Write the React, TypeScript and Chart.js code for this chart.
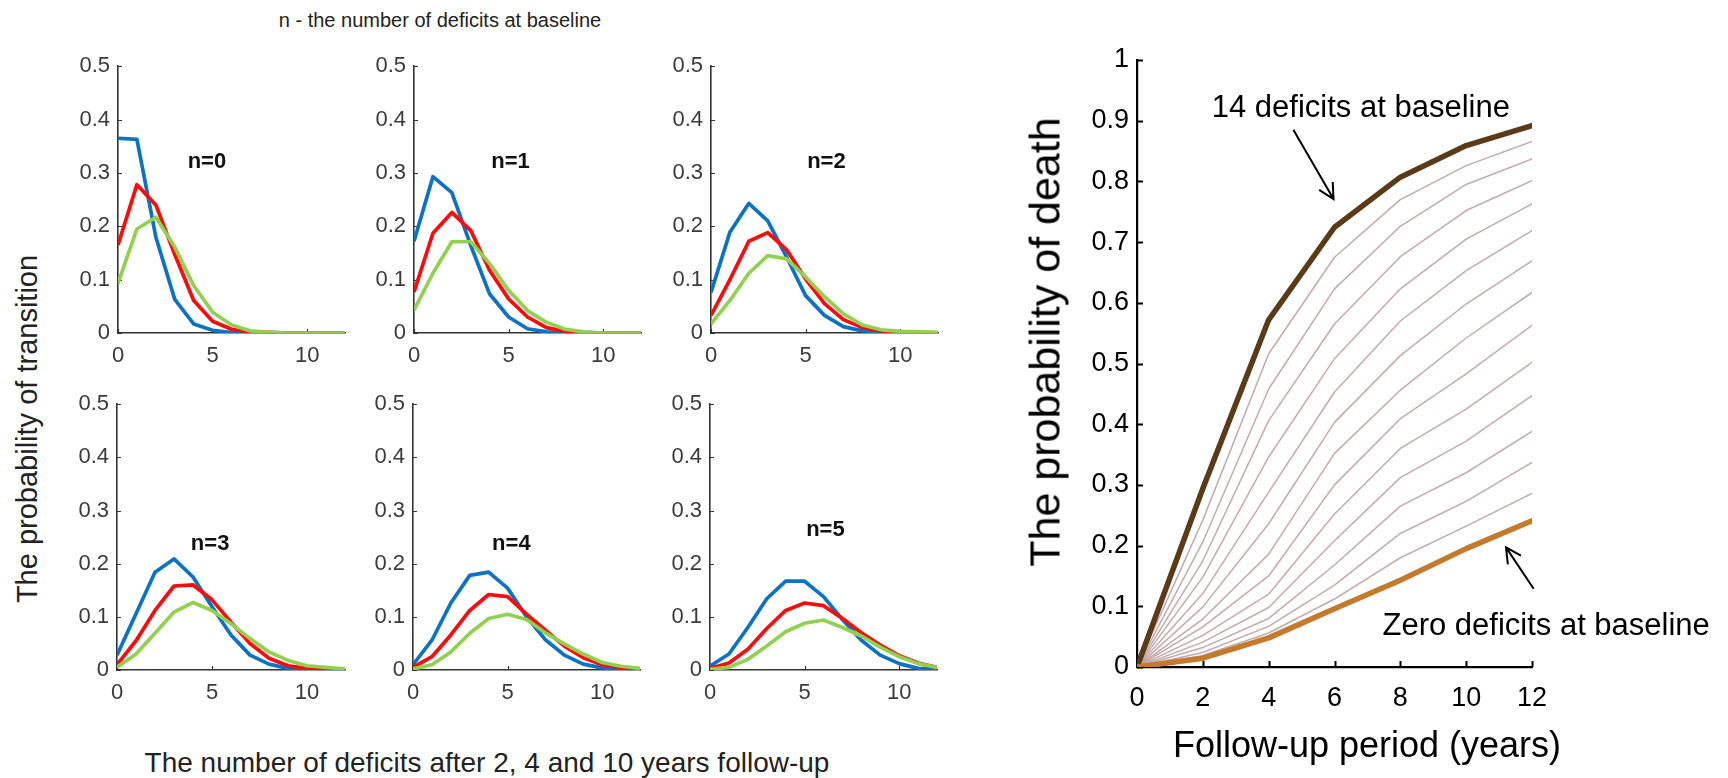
import React, { useEffect, useRef } from "react";
import { Chart, registerables } from "chart.js";

Chart.register(...registerables);

const FONT = '"Liberation Sans", Arial, Helvetica, sans-serif';

// ---------- Left: transition probabilities ----------
const DEFICIT_COUNTS = [0, 1, 2, 3, 4, 5, 6, 7, 8, 9, 10, 11, 12];
const BASELINE_N = [0, 1, 2, 3, 4, 5];
const TRANS_X_TICKS = [0, 5, 10];
const TRANS_Y_TICKS = [0, 0.1, 0.2, 0.3, 0.4, 0.5];

// blue = 2 years, red = 4 years, green = 10 years
const N0_2Y = [0.365, 0.363, 0.18, 0.063, 0.017, 0.005, 0.001, 0, 0, 0, 0, 0, 0];
const N0_4Y = [0.165, 0.278, 0.24, 0.147, 0.061, 0.022, 0.007, 0.002, 0.001, 0, 0, 0, 0];
const N0_10Y = [0.093, 0.195, 0.217, 0.161, 0.089, 0.039, 0.015, 0.004, 0.001, 0, 0, 0, 0];

const N1_2Y = [0.172, 0.293, 0.263, 0.164, 0.073, 0.03, 0.008, 0.002, 0, 0, 0, 0, 0];
const N1_4Y = [0.077, 0.187, 0.226, 0.192, 0.117, 0.064, 0.03, 0.01, 0.003, 0.001, 0, 0, 0];
const N1_10Y = [0.043, 0.112, 0.171, 0.171, 0.13, 0.08, 0.042, 0.02, 0.007, 0.002, 0, 0, 0];

const N2_2Y = [0.076, 0.189, 0.243, 0.21, 0.142, 0.07, 0.033, 0.012, 0.004, 0.001, 0, 0, 0];
const N2_4Y = [0.033, 0.1, 0.172, 0.188, 0.156, 0.101, 0.055, 0.025, 0.01, 0.004, 0.002, 0.001, 0];
const N2_10Y = [0.017, 0.061, 0.112, 0.145, 0.139, 0.105, 0.068, 0.036, 0.015, 0.006, 0.003, 0.002, 0.001];

const N3_2Y = [0.028, 0.106, 0.184, 0.209, 0.175, 0.119, 0.066, 0.028, 0.011, 0.003, 0.001, 0, 0];
const N3_4Y = [0.01, 0.055, 0.112, 0.158, 0.16, 0.132, 0.09, 0.05, 0.022, 0.008, 0.003, 0.001, 0];
const N3_10Y = [0.005, 0.03, 0.069, 0.109, 0.127, 0.112, 0.087, 0.059, 0.034, 0.018, 0.008, 0.005, 0.002];

const N4_2Y = [0.01, 0.056, 0.126, 0.178, 0.184, 0.154, 0.1, 0.057, 0.028, 0.011, 0.004, 0.001, 0];
const N4_4Y = [0.005, 0.025, 0.066, 0.112, 0.142, 0.138, 0.105, 0.075, 0.045, 0.023, 0.01, 0.005, 0.002];
const N4_10Y = [0.002, 0.01, 0.034, 0.069, 0.097, 0.105, 0.095, 0.07, 0.049, 0.03, 0.014, 0.007, 0.003];

const N5_2Y = [0.007, 0.03, 0.08, 0.134, 0.167, 0.167, 0.138, 0.095, 0.056, 0.028, 0.012, 0.003, 0.001];
const N5_4Y = [0.003, 0.013, 0.039, 0.078, 0.112, 0.126, 0.121, 0.097, 0.07, 0.047, 0.027, 0.013, 0.005];
const N5_10Y = [0.001, 0.005, 0.02, 0.045, 0.072, 0.088, 0.094, 0.08, 0.064, 0.043, 0.025, 0.012, 0.005];

const PANEL_SERIES = [
  [N0_2Y, N0_4Y, N0_10Y],
  [N1_2Y, N1_4Y, N1_10Y],
  [N2_2Y, N2_4Y, N2_10Y],
  [N3_2Y, N3_4Y, N3_10Y],
  [N4_2Y, N4_4Y, N4_10Y],
  [N5_2Y, N5_4Y, N5_10Y],
];

// ---------- Right: probability of death ----------
const FOLLOW_UP_YEARS = [0, 2, 4, 6, 8, 10, 12];
const DEATH_Y_TICKS = [0, 0.1, 0.2, 0.3, 0.4, 0.5, 0.6, 0.7, 0.8, 0.9, 1];
const DEATH_BASE_0 = [0, 0.0145, 0.048, 0.096, 0.143, 0.195, 0.241];
const DEATH_BASE_1 = [0, 0.019, 0.056, 0.112, 0.18, 0.232, 0.286];
const DEATH_BASE_2 = [0, 0.024, 0.067, 0.135, 0.22, 0.273, 0.337];
const DEATH_BASE_3 = [0, 0.032, 0.08, 0.168, 0.265, 0.32, 0.388];
const DEATH_BASE_4 = [0, 0.041, 0.098, 0.208, 0.312, 0.372, 0.447];
const DEATH_BASE_5 = [0, 0.052, 0.12, 0.252, 0.36, 0.425, 0.502];
const DEATH_BASE_6 = [0, 0.066, 0.15, 0.3, 0.409, 0.483, 0.563];
const DEATH_BASE_7 = [0, 0.079, 0.186, 0.352, 0.456, 0.542, 0.617];
const DEATH_BASE_8 = [0, 0.099, 0.236, 0.403, 0.513, 0.598, 0.669];
const DEATH_BASE_9 = [0, 0.121, 0.288, 0.453, 0.57, 0.653, 0.719];
const DEATH_BASE_10 = [0, 0.148, 0.346, 0.508, 0.623, 0.705, 0.763];
const DEATH_BASE_11 = [0, 0.175, 0.406, 0.565, 0.676, 0.752, 0.801];
const DEATH_BASE_12 = [0, 0.206, 0.458, 0.623, 0.726, 0.795, 0.837];
const DEATH_BASE_13 = [0, 0.242, 0.516, 0.675, 0.77, 0.826, 0.866];
const DEATH_BASE_14 = [0, 0.294, 0.572, 0.7245, 0.807, 0.859, 0.892];

const DEATH_SERIES = [
  DEATH_BASE_0, DEATH_BASE_1, DEATH_BASE_2, DEATH_BASE_3, DEATH_BASE_4,
  DEATH_BASE_5, DEATH_BASE_6, DEATH_BASE_7, DEATH_BASE_8, DEATH_BASE_9,
  DEATH_BASE_10, DEATH_BASE_11, DEATH_BASE_12, DEATH_BASE_13, DEATH_BASE_14,
];

// ---------- layout / style (kept out of data) ----------
const PANEL_AREAS = [
  { left: 118, top: 65, right: 345, bottom: 333 },
  { left: 414, top: 65, right: 641, bottom: 333 },
  { left: 711, top: 65, right: 938, bottom: 333 },
  { left: 117, top: 403, right: 345, bottom: 670 },
  { left: 413, top: 403, right: 640, bottom: 670 },
  { left: 710, top: 403, right: 937, bottom: 670 },
];
const PANEL_LABEL_AT = [
  [4.7, 0.32], [5.1, 0.32], [6.1, 0.32],
  [4.9, 0.238], [5.2, 0.238], [6.1, 0.263],
];
const SERIES_COLORS = ["#0B72C4", "#FF0A0A", "#92D050"];

const DEATH_AREA = { left: 1137, top: 60, right: 1532, bottom: 667 };
const DEATH_NOTES = [
  { text: "14 deficits at baseline", x: 6.8, y: 0.906, from: [4.75, 0.885], to: [5.97, 0.771] },
  { text: "Zero deficits at baseline", x: 12.43, y: 0.052, from: [12.05, 0.129], to: [11.21, 0.197] },
];

const fmt = (v: any) => String(Math.round(Number(v) * 10) / 10);

const inwardTicks = {
  id: "inwardTicks",
  beforeDatasetsDraw(chart: any, _a: any, opts: any) {
    const { ctx, chartArea, scales } = chart;
    ctx.save();
    ctx.strokeStyle = opts.color;
    ctx.lineWidth = opts.width;
    ctx.beginPath();
    scales.y.ticks.forEach((t: any) => {
      const y = Math.round(scales.y.getPixelForValue(t.value)) + 0.5;
      ctx.moveTo(chartArea.left, y);
      ctx.lineTo(chartArea.left + opts.len, y);
    });
    scales.x.ticks.forEach((t: any) => {
      const x = Math.round(scales.x.getPixelForValue(t.value)) + 0.5;
      ctx.moveTo(x, chartArea.bottom);
      ctx.lineTo(x, chartArea.bottom - opts.len);
    });
    ctx.stroke();
    ctx.restore();
  },
};

const panelLabel = {
  id: "panelLabel",
  afterDatasetsDraw(chart: any, _a: any, opts: any) {
    const { ctx, scales } = chart;
    ctx.save();
    ctx.font = `bold 22px ${FONT}`;
    ctx.fillStyle = "#111";
    ctx.textAlign = "center";
    ctx.textBaseline = "middle";
    ctx.fillText(opts.text, scales.x.getPixelForValue(opts.x), scales.y.getPixelForValue(opts.y));
    ctx.restore();
  },
};

function drawArrow(ctx: CanvasRenderingContext2D, x1: number, y1: number, x2: number, y2: number) {
  const head = 17;
  const spread = 0.48;
  const a = Math.atan2(y2 - y1, x2 - x1);
  ctx.beginPath();
  ctx.moveTo(x1, y1);
  ctx.lineTo(x2, y2);
  ctx.moveTo(x2 - head * Math.cos(a - spread), y2 - head * Math.sin(a - spread));
  ctx.lineTo(x2, y2);
  ctx.lineTo(x2 - head * Math.cos(a + spread), y2 - head * Math.sin(a + spread));
  ctx.stroke();
}

const deathNotes = {
  id: "deathNotes",
  afterDraw(chart: any) {
    const { ctx, scales } = chart;
    const X = (v: number) => scales.x.getPixelForValue(v);
    const Y = (v: number) => scales.y.getPixelForValue(v);
    ctx.save();
    ctx.fillStyle = "#000";
    ctx.strokeStyle = "#000";
    ctx.lineWidth = 2;
    ctx.font = `31px ${FONT}`;
    ctx.textAlign = "center";
    ctx.textBaseline = "alphabetic";
    DEATH_NOTES.forEach((n) => {
      ctx.fillText(n.text, X(n.x), Y(n.y));
      drawArrow(ctx, X(n.from[0]), Y(n.from[1]), X(n.to[0]), Y(n.to[1]));
    });
    ctx.restore();
  },
};

function SmallPanel({ idx }: { idx: number }) {
  const ref = useRef<HTMLCanvasElement>(null);
  const area = PANEL_AREAS[idx];
  const padL = 10, yW = 60, padT = 20, padR = 20, xH = 50;
  const W = area.right - area.left + padL + yW + padR;
  const H = area.bottom - area.top + padT + xH;
  useEffect(() => {
    const series = PANEL_SERIES[idx];
    const chart = new Chart(ref.current!, {
      type: "line",
      data: {
        datasets: series.map((arr, k) => ({
          data: DEFICIT_COUNTS.map((x, i) => ({ x, y: arr[i] })),
          borderColor: SERIES_COLORS[k],
          borderWidth: 3.7,
          pointRadius: 0,
          tension: 0,
          fill: false,
          order: 2 - k,
          borderJoinStyle: "round" as const,
        })),
      },
      options: {
        responsive: false,
        animation: false,
        events: [],
        layout: { padding: { left: padL, top: padT, right: padR, bottom: 0 }, autoPadding: false } as any,
        plugins: {
          legend: { display: false },
          tooltip: { enabled: false },
          inwardTicks: { len: 4, color: "#333", width: 1.2 },
          panelLabel: { text: `n=${BASELINE_N[idx]}`, x: PANEL_LABEL_AT[idx][0], y: PANEL_LABEL_AT[idx][1] },
        } as any,
        scales: {
          x: {
            type: "linear",
            min: 0,
            max: 12,
            afterBuildTicks: (s: any) => { s.ticks = TRANS_X_TICKS.map((v) => ({ value: v })); },
            afterFit: (s: any) => { s.height = xH; },
            grid: { display: false, drawTicks: false },
            border: { display: true, color: "#333", width: 1.6 },
            ticks: { padding: 10, color: "#3a3a3a", font: { family: FONT, size: 22 }, maxRotation: 0 },
          },
          y: {
            type: "linear",
            min: 0,
            max: 0.5,
            afterBuildTicks: (s: any) => { s.ticks = TRANS_Y_TICKS.map((v) => ({ value: v })); },
            afterFit: (s: any) => { s.width = yW; },
            grid: { display: false, drawTicks: false },
            border: { display: true, color: "#333", width: 1.6 },
            ticks: { padding: 8, color: "#3a3a3a", font: { family: FONT, size: 22 }, callback: fmt },
          },
        },
      },
      plugins: [inwardTicks, panelLabel],
    });
    return () => chart.destroy();
  }, [idx]);
  return (
    <canvas
      ref={ref}
      width={W}
      height={H}
      style={{ position: "absolute", left: area.left - padL - yW, top: area.top - padT, width: W, height: H }}
    />
  );
}

function DeathChart() {
  const ref = useRef<HTMLCanvasElement>(null);
  const L = 1000, T = 0, W = 728, H = 778;
  const yW = 60, xH = 60;
  const padL = DEATH_AREA.left - L - yW;
  const padT = DEATH_AREA.top - T;
  const padR = L + W - DEATH_AREA.right;
  const padB = T + H - DEATH_AREA.bottom - xH;
  useEffect(() => {
    const last = DEATH_SERIES.length - 1;
    const chart = new Chart(ref.current!, {
      type: "line",
      data: {
        datasets: DEATH_SERIES.map((arr, k) => {
          const thick = k === 0 || k === last;
          return {
            data: FOLLOW_UP_YEARS.map((x, i) => ({ x, y: arr[i] })),
            borderColor: k === last ? "#5B3A17" : k === 0 ? "#C47A2D" : "rgba(185,155,155,0.85)",
            borderWidth: thick ? 5.5 : 1.5,
            pointRadius: 0,
            tension: 0,
            fill: false,
            order: thick ? 0 : 1,
            borderCapStyle: "round" as const,
            borderJoinStyle: "round" as const,
          };
        }),
      },
      options: {
        responsive: false,
        animation: false,
        events: [],
        layout: { padding: { left: padL, top: padT, right: padR, bottom: padB }, autoPadding: false } as any,
        plugins: {
          legend: { display: false },
          tooltip: { enabled: false },
          inwardTicks: { len: 6, color: "#000", width: 2 },
        } as any,
        scales: {
          x: {
            type: "linear",
            min: 0,
            max: 12,
            afterBuildTicks: (s: any) => { s.ticks = FOLLOW_UP_YEARS.map((v) => ({ value: v })); },
            afterFit: (s: any) => { s.height = xH; },
            grid: { display: false, drawTicks: false },
            border: { display: true, color: "#000", width: 2.2 },
            ticks: { padding: 15, color: "#000", font: { family: FONT, size: 27 }, maxRotation: 0 },
          },
          y: {
            type: "linear",
            min: 0,
            max: 1,
            afterBuildTicks: (s: any) => { s.ticks = DEATH_Y_TICKS.map((v) => ({ value: v })); },
            afterFit: (s: any) => { s.width = yW; },
            grid: { display: false, drawTicks: false },
            border: { display: true, color: "#000", width: 2.2 },
            ticks: { padding: 8, color: "#000", font: { family: FONT, size: 27 }, callback: fmt },
          },
        },
      },
      plugins: [inwardTicks, deathNotes],
    });
    return () => chart.destroy();
  }, []);
  return (
    <canvas ref={ref} width={W} height={H} style={{ position: "absolute", left: L, top: T, width: W, height: H }} />
  );
}

function Text({ children, cx, cy, size, rotate = false, color = "#000" }: any) {
  return (
    <div
      style={{
        position: "absolute",
        left: cx,
        top: cy,
        transform: `translate(-50%, -50%)${rotate ? " rotate(-90deg)" : ""}`,
        whiteSpace: "nowrap",
        fontFamily: FONT,
        fontSize: size,
        lineHeight: 1,
        color,
      }}
    >
      {children}
    </div>
  );
}

export default function App() {
  return (
    <div
      style={{
        position: "fixed",
        left: 0,
        top: 0,
        width: 1728,
        height: 778,
        background: "#fff",
        overflow: "hidden",
      }}
    >
      {PANEL_AREAS.map((_, i) => (
        <SmallPanel key={i} idx={i} />
      ))}
      <DeathChart />
      <Text cx={440} cy={20} size={20} color="#222">n - the number of deficits at baseline</Text>
      <Text cx={27} cy={429} size={29} rotate color="#222">The probability of transition</Text>
      <Text cx={487} cy={763} size={28} color="#222">The number of deficits after 2, 4 and 10 years follow-up</Text>
      <Text cx={1045} cy={342} size={43} rotate>The probability of death</Text>
      <Text cx={1367} cy={745} size={36}>Follow-up period (years)</Text>
    </div>
  );
}
